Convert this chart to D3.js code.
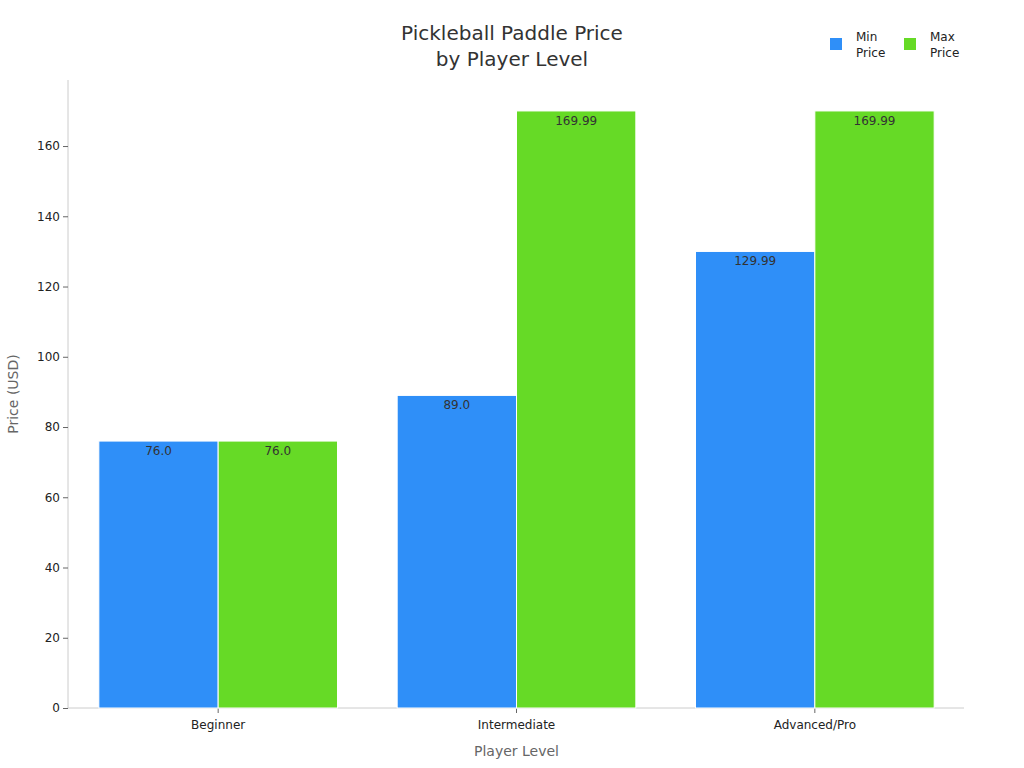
<!DOCTYPE html>
<html lang="en">
<head>
<meta charset="UTF-8">
<script src="https://d3js.org/d3.v7.min.js"></script>
<style>
body { margin: 0; background: #fff; font-family: "DejaVu Sans", sans-serif; }
</style>
</head>
<body>
<svg width="1024" height="768"></svg>
<script>
const levels = ["Beginner", "Intermediate", "Advanced/Pro"];
const seriesNames = ["Min Price", "Max Price"];
const minPrice = [76.0, 89.0, 129.99];
const maxPrice = [76.0, 169.99, 169.99];
const labelText = [["76.0", "89.0", "129.99"], ["76.0", "169.99", "169.99"]];
const colors = ["#2f8ff8", "#66da26"];
const yTicks = [0, 20, 40, 60, 80, 100, 120, 140, 160];

const svg = d3.select("svg");
const plotLeft = 69, plotRight = 964, plotTop = 80, plotBottom = 708;

const x = d3.scaleBand().domain(levels).range([plotLeft, plotRight]).paddingInner(0.2).paddingOuter(0.1);
const sub = d3.scaleBand().domain([0, 1]).range([0, x.bandwidth()]);
const y = d3.scaleLinear().domain([0, 178.8]).range([plotBottom, plotTop]);

// title
svg.append("text").attr("x", 512).attr("y", 40).attr("text-anchor", "middle")
  .attr("font-size", 20).attr("fill", "#333").text("Pickleball Paddle Price");
svg.append("text").attr("x", 512).attr("y", 66).attr("text-anchor", "middle")
  .attr("font-size", 20).attr("fill", "#333").text("by Player Level");

// axes
const yAxis = svg.append("g").attr("transform", `translate(${plotLeft - 1},0)`)
  .call(d3.axisLeft(y).tickValues(yTicks).tickSize(5).tickSizeOuter(0));
yAxis.select(".domain").attr("d", `M0,${plotTop}V${plotBottom}`).attr("stroke", "#ccc");
yAxis.selectAll(".tick line").attr("stroke", "#666");
yAxis.selectAll("text").attr("font-size", 12).attr("fill", "#222").attr("font-family", "DejaVu Sans");

const xAxis = svg.append("g").attr("transform", `translate(0,${plotBottom})`)
  .call(d3.axisBottom(x).tickSize(5).tickSizeOuter(0));
xAxis.select(".domain").attr("d", `M${plotLeft - 1},0H${plotRight}`).attr("stroke", "#ccc");
xAxis.selectAll(".tick line").attr("stroke", "#666");
xAxis.selectAll("text").attr("font-size", 12).attr("fill", "#222").attr("font-family", "DejaVu Sans").attr("dy", "1.1em");

svg.append("text").attr("x", (plotLeft + plotRight) / 2).attr("y", 756).attr("text-anchor", "middle")
  .attr("font-size", 14).attr("fill", "#666").text("Player Level");
svg.append("text").attr("transform", `translate(18,${(plotTop + plotBottom) / 2}) rotate(-90)`)
  .attr("text-anchor", "middle").attr("font-size", 14).attr("fill", "#666").text("Price (USD)");

// bars
[minPrice, maxPrice].forEach((vals, s) => {
  const g = svg.append("g");
  g.selectAll("rect").data(vals).join("rect")
    .attr("x", (d, i) => x(levels[i]) + sub(s))
    .attr("y", d => y(d))
    .attr("width", sub.bandwidth())
    .attr("height", d => y(0) - y(d))
    .attr("fill", colors[s])
    .attr("stroke", "#fff").attr("stroke-width", 1);
  g.selectAll("text").data(vals).join("text")
    .attr("x", (d, i) => x(levels[i]) + sub(s) + sub.bandwidth() / 2)
    .attr("y", d => y(d) + 14)
    .attr("text-anchor", "middle").attr("font-size", 12).attr("fill", "#333")
    .text((d, i) => labelText[s][i]);
});

// legend
seriesNames.forEach((name, s) => {
  const lx = 830 + s * 74;
  svg.append("rect").attr("x", lx).attr("y", 38).attr("width", 12).attr("height", 12).attr("fill", colors[s]);
  name.split(" ").forEach((p, j) => {
    svg.append("text").attr("x", lx + 26).attr("y", 41 + j * 16)
      .attr("font-size", 12).attr("fill", "#222").text(p);
  });
});
</script>
</body>
</html>
